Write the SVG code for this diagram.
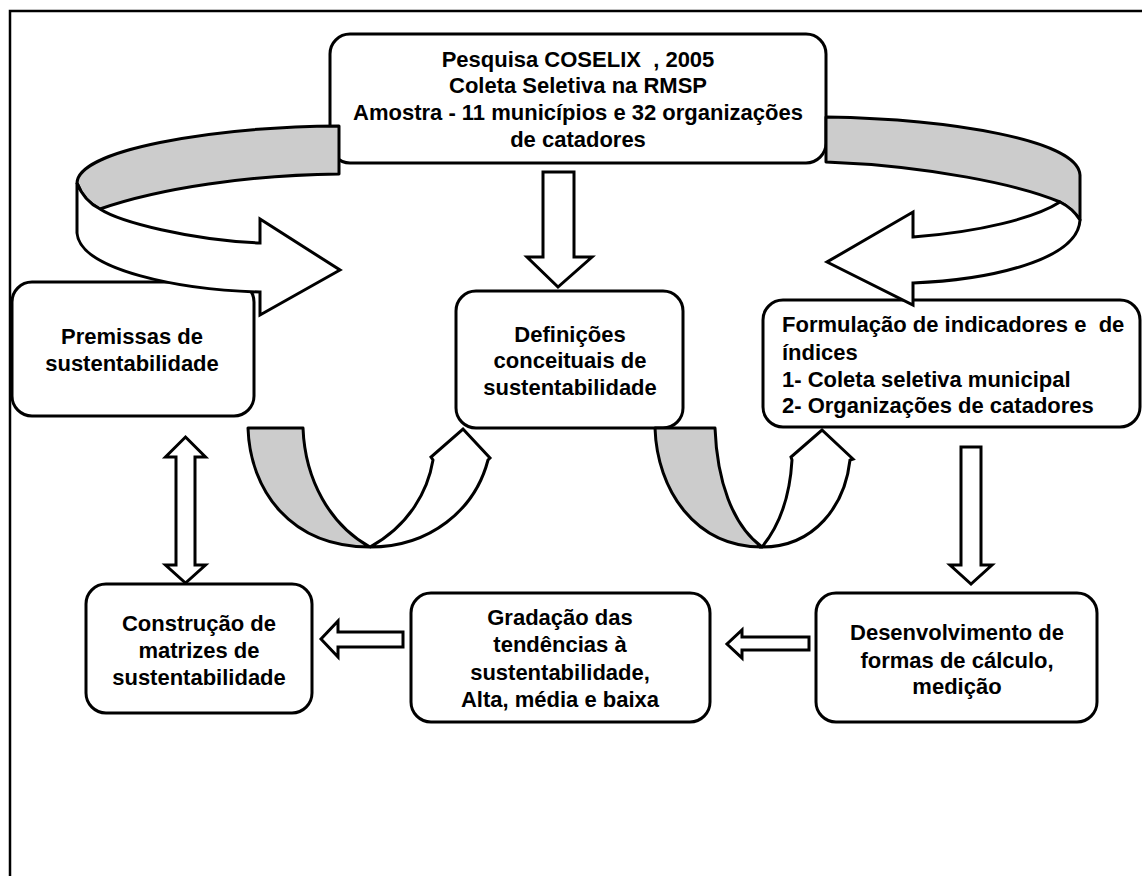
<svg xmlns="http://www.w3.org/2000/svg" width="1142" height="876" viewBox="0 0 1142 876">
<style>
.bx{fill:#fff;stroke:#000;stroke-width:3}
.ar{fill:#fff;stroke:#000;stroke-width:3;stroke-linejoin:miter}
.gr{fill:#cccccc;stroke:#000;stroke-width:3;stroke-linejoin:round}
.wh{fill:#fff;stroke:#000;stroke-width:3;stroke-linejoin:miter}
text{font-family:"Liberation Sans",Arial,sans-serif;font-weight:bold;font-size:22px;fill:#000}
.c{text-anchor:middle}
</style>
<rect x="0" y="0" width="1142" height="876" fill="#fff"/>
<path d="M10,880 L10,11 L1150,11" fill="none" stroke="#000" stroke-width="2.5"/>
<g id="pesquisa">
<rect class="bx" x="330" y="34" width="496" height="129" rx="20"/>
<text class="c" x="578" y="67" xml:space="preserve">Pesquisa COSELIX  , 2005</text>
<text class="c" x="578" y="93">Coleta Seletiva na RMSP</text>
<text class="c" x="578" y="120">Amostra - 11 municípios e 32 organizações</text>
<text class="c" x="578" y="147">de catadores</text>
</g>
<g id="premissas">
<rect class="bx" x="12" y="282" width="242" height="134" rx="20"/>
<text class="c" x="132" y="344">Premissas de</text>
<text class="c" x="132" y="371">sustentabilidade</text>
</g>
<g id="definicoes">
<rect class="bx" x="456" y="291" width="227" height="137" rx="20"/>
<text class="c" x="570" y="342">Definições</text>
<text class="c" x="570" y="368">conceituais de</text>
<text class="c" x="570" y="395">sustentabilidade</text>
</g>
<g id="formulacao">
<rect class="bx" x="763" y="300" width="377" height="127" rx="20"/>
<text x="782" y="332" xml:space="preserve">Formulação de indicadores e  de</text>
<text x="782" y="360">índices</text>
<text x="782" y="387">1- Coleta seletiva municipal</text>
<text x="782" y="413">2- Organizações de catadores</text>
</g>
<g id="construcao">
<rect class="bx" x="86" y="584" width="226" height="129" rx="20"/>
<text class="c" x="199" y="631">Construção de</text>
<text class="c" x="199" y="658">matrizes de</text>
<text class="c" x="199" y="685">sustentabilidade</text>
</g>
<g id="gradacao">
<rect class="bx" x="411" y="593" width="299" height="129" rx="20"/>
<text class="c" x="560" y="625">Gradação das</text>
<text class="c" x="560" y="652">tendências à</text>
<text class="c" x="560" y="680">sustentabilidade,</text>
<text class="c" x="560" y="707">Alta, média e baixa</text>
</g>
<g id="desenvolvimento">
<rect class="bx" x="816" y="593" width="281" height="129" rx="20"/>
<text class="c" x="957" y="640">Desenvolvimento de</text>
<text class="c" x="957" y="668">formas de cálculo,</text>
<text class="c" x="957" y="694">medição</text>
</g>
<g id="connectors">
<!-- top-left circular arrow -->
<path class="gr" d="M339,126 C210,127 78,150 77,183 C82,196 90,204 100,209 C160,188 250,175 339,174 Z"/>
<path class="wh" d="M77,183 L77,233 C80,270 180,290 260,292 L260,315 L340,270 L260,219 L260,243 C190,240 120,222 100,209 C90,204 82,196 77,183 Z"/>
<!-- top-right circular arrow -->
<path class="gr" d="M826,117 C950,119 1078,140 1080,175 L1080,220 C1075,212 1068,206 1060,202 C1020,185 930,166 826,162 Z"/>
<path class="wh" d="M1060,202 C1068,206 1075,212 1080,220 C1078,260 990,280 913,283 L913,305 L827,262 L913,212 L913,237 C980,232 1035,218 1060,202 Z"/>
<!-- lower-left U arrow -->
<path class="gr" d="M248,428 L303,428 C305,480 330,525 370,547 C290,547 250,490 248,428 Z"/>
<path class="wh" d="M370,547 C430,547 475,510 488,460 L490,458 L463,429 L431,457 L433,460 C428,490 410,525 370,547 Z"/>
<!-- lower-right U arrow -->
<path class="gr" d="M655,428 L715,428 C717,480 732,525 762,547 C695,547 657,490 655,428 Z"/>
<path class="wh" d="M762,547 C815,547 845,505 850,460 L853,459 L822,430 L791,457 L792,460 C790,495 780,525 762,547 Z"/>
<!-- straight block arrows -->
<path class="ar" d="M543,172 L574,172 L574,257 L592,257 L558,287 L527,257 L543,257 Z"/>
<path class="ar" d="M185.5,437 L205.5,457 L195,457 L195,565 L205.5,565 L185.5,583 L165.5,565 L176,565 L176,457 L165.5,457 Z"/>
<path class="ar" d="M961,447 L981,447 L981,565 L992,565 L971,584 L950,565 L961,565 Z"/>
<path class="ar" d="M403,632 L338,632 L338,621 L321,639 L338,657 L338,647 L403,647 Z"/>
<path class="ar" d="M809,637 L742,637 L742,630 L727,644 L742,658 L742,650 L809,650 Z"/>
</g>
</svg>
